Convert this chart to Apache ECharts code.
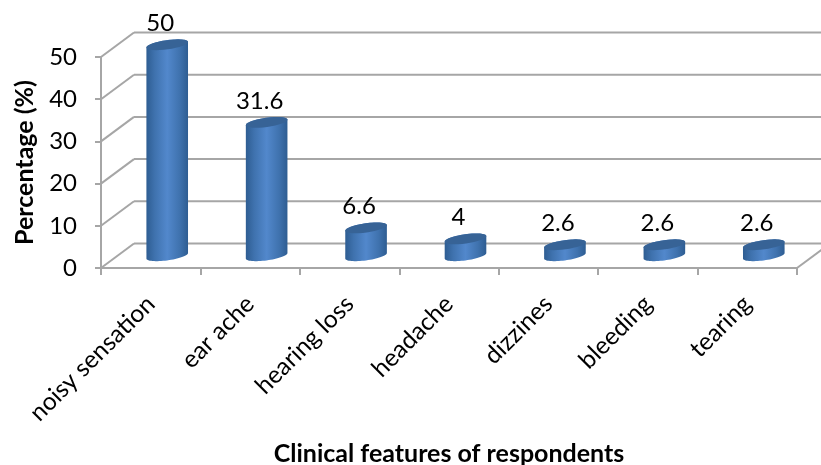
<!DOCTYPE html>
<html>
<head>
<meta charset="utf-8">
<style>html,body{margin:0;padding:0;background:#fff}#c{width:821px;height:465px}</style>
<script src="https://cdn.jsdelivr.net/npm/echarts@6/dist/echarts.min.js"></script>
</head>
<body>
<div id="c"></div>
<script>
var categories = ['noisy sensation','ear ache','hearing loss','headache','dizzines','bleeding','tearing'];
var values = [50, 31.6, 6.6, 4, 2.6, 2.6, 2.6];
var yTicks = [0, 10, 20, 30, 40, 50];

var DX = 33, DY = 24.5, GRID = '#a6a6a6', FONT = 'Lato, "Open Sans", sans-serif';
var chart = echarts.init(document.getElementById('c'));

function renderWall(params, api) {
  var v = api.value(0), cs = params.coordSys;
  var y = api.coord([0, v])[1], x0 = cs.x, x1 = cs.x + cs.width;
  var lineStyle = {stroke: GRID, lineWidth: 2, fill: null};
  var kids = [
    {type:'line', shape:{x1:x0, y1:y, x2:x0+DX, y2:y-DY}, style:lineStyle},
    {type:'line', shape:{x1:x0+DX, y1:y-DY, x2:x1+DX, y2:y-DY}, style:lineStyle}
  ];
  if (v === 0) kids.push({type:'line', shape:{x1:x1, y1:y, x2:x1+DX, y2:y-DY}, style:lineStyle});
  return {type:'group', children:kids};
}

function ellipsePts(cx, cy, rx, ry, th, a, b) {
  var pts = [], n = 32;
  for (var i = 0; i <= n; i++) {
    var t = a + (b - a) * i / n;
    pts.push([
      cx + rx*Math.cos(t)*Math.cos(th) - ry*Math.sin(t)*Math.sin(th),
      cy + rx*Math.cos(t)*Math.sin(th) + ry*Math.sin(t)*Math.cos(th)
    ]);
  }
  return pts;
}

function renderCyl(params, api) {
  var idx = api.value(0), v = api.value(1);
  var top = api.coord([idx, v]), base = api.coord([idx, 0]);
  var cx = top[0] + DX/2, ty = top[1] - DY/2, by = base[1] - DY/2;
  var rx = 21, ry = 4.6, th = -8*Math.PI/180;
  var t0 = Math.atan(-(ry/rx)*Math.tan(th));
  var body = ellipsePts(cx, by, rx, ry, th, t0, t0+Math.PI)
    .concat(ellipsePts(cx, ty, rx, ry, th, t0+Math.PI, t0+2*Math.PI));
  return {type:'group', children:[
    {type:'polygon', shape:{points:body}, style:{fill:{type:'linear',x:0,y:0,x2:1,y2:0,colorStops:[
      {offset:0,color:'#2e5d92'},{offset:0.2,color:'#3f72ae'},{offset:0.5,color:'#5288cc'},{offset:0.8,color:'#3f72ae'},{offset:1,color:'#2e5d92'}]}}},
    {type:'polygon', shape:{points:ellipsePts(cx, ty, rx, ry, th, 0, 2*Math.PI)}, style:{fill:'#376396'}},
    {type:'text', style:{text:String(v), x:cx-7, y:ty-21.5, align:'center', verticalAlign:'middle', font:'24px '+FONT, fill:'#000'}}
  ]};
}

chart.setOption({
  animation:false,
  backgroundColor:'#fff',
  grid:{left:101, right:24, top:57, bottom:197, containLabel:false, outerBoundsMode:'none'},
  xAxis:{
    type:'category', data:categories, boundaryGap:true,
    axisLine:{lineStyle:{color:GRID,width:2}},
    axisTick:{show:true,length:7,alignWithLabel:false,lineStyle:{color:GRID,width:2}},
    splitLine:{show:false},
    axisLabel:{rotate:45,interval:0,margin:32,fontSize:24.5,color:'#000',fontFamily:FONT},
    name:'Clinical features of respondents', nameLocation:'middle', nameGap:173,
    nameTextStyle:{fontSize:25,fontWeight:'bold',color:'#000',fontFamily:FONT}
  },
  yAxis:{
    type:'value', min:0, max:50, interval:10,
    axisLine:{show:true,lineStyle:{color:GRID,width:2}},
    axisTick:{show:true,length:6,lineStyle:{color:GRID,width:2}},
    splitLine:{show:false},
    axisLabel:{margin:24,fontSize:24,color:'#000',fontFamily:FONT,padding:[3,0,0,0]},
    name:'Percentage (%)', nameLocation:'middle', nameGap:64, nameRotate:90,
    nameTextStyle:{fontSize:25,fontWeight:'bold',color:'#000',fontFamily:FONT}
  },
  series:[
    {type:'custom', renderItem:renderWall, data:yTicks.map(function(t){return [t];}), encode:{y:0}, clip:false, silent:true, z:1},
    {type:'custom', renderItem:renderCyl, data:values.map(function(v,i){return [i,v];}), encode:{x:0,y:1}, clip:false, z:3}
  ]
});
</script>
</body>
</html>
